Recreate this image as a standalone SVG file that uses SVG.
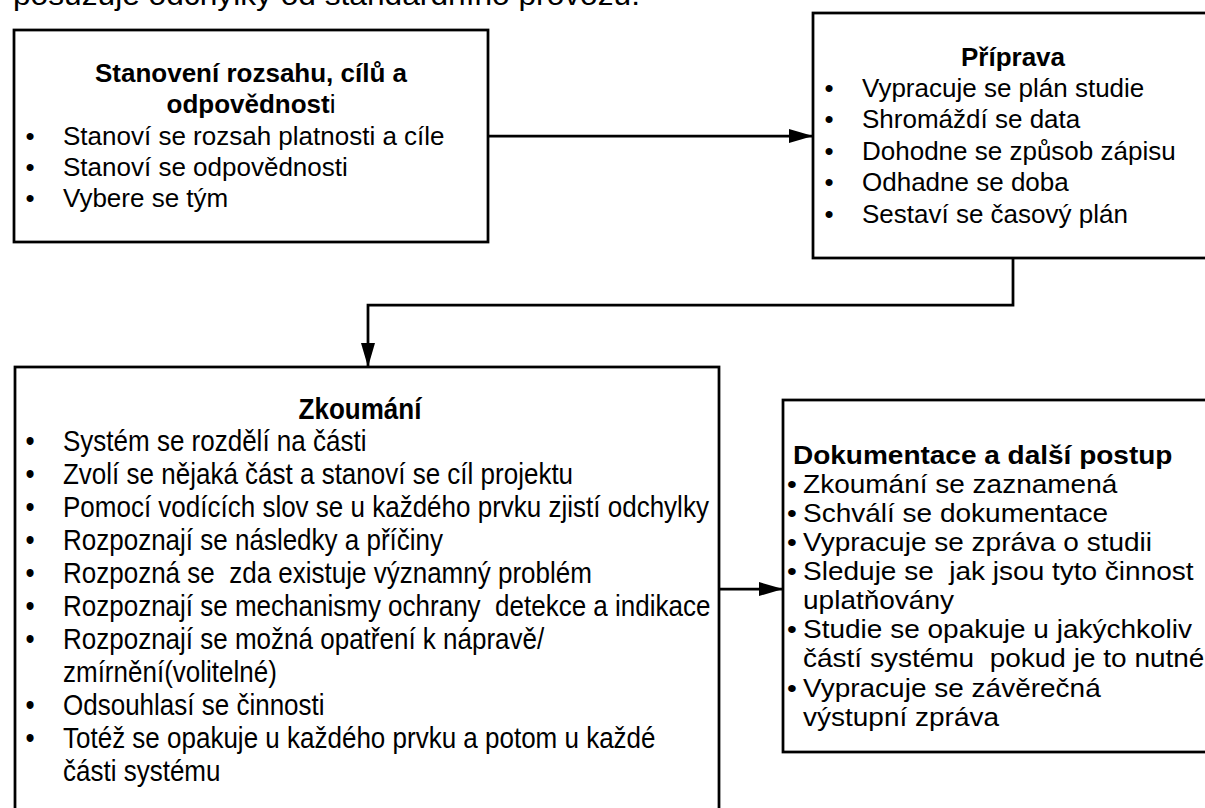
<svg xmlns="http://www.w3.org/2000/svg" width="1205" height="808" viewBox="0 0 1205 808">
<style>
.box{fill:#fff;stroke:#000;stroke-width:2.75}
.t{font-family:"Liberation Sans",Arial,sans-serif;font-size:26px;fill:#000;white-space:pre}
.d{font-size:25px}
.b{font-weight:bold}
.c{text-anchor:middle}
.n{font-weight:normal}
.conn{fill:none;stroke:#000;stroke-width:2.75}
</style>
<defs>
<marker id="arr" markerUnits="userSpaceOnUse" markerWidth="26" markerHeight="16" refX="24" refY="7" orient="auto">
<path d="M0,0 L24,7 L0,14 z" fill="#000"/>
</marker>
</defs>
<rect width="1205" height="808" fill="#fff"/>
<text x="13" y="5" class="t" style="font-size:30px" textLength="627" lengthAdjust="spacingAndGlyphs">posuzuje odchylky od standardního provozu.</text>

<g id="connectors">
<path class="conn" d="M488,136 H813" marker-end="url(#arr)"/>
<path class="conn" d="M1013,258 V305 H368 V367" marker-end="url(#arr)"/>
<path class="conn" d="M719,589 H783" marker-end="url(#arr)"/>
</g>

<g id="node-stanoveni">
<rect class="box" x="14" y="30" width="474" height="212"/>
<text class="t b c" x="251" y="82">Stanovení rozsahu, cílů a</text>
<text class="t b c" x="251" y="113">odpovědnost<tspan class="n">i</tspan></text>
<text class="t" x="25.5" y="144.5">•</text><text class="t" x="63" y="144.5">Stanoví se rozsah platnosti a cíle</text>
<text class="t" x="25.5" y="175.5">•</text><text class="t" x="63" y="175.5">Stanoví se odpovědnosti</text>
<text class="t" x="25.5" y="206.5">•</text><text class="t" x="63" y="206.5">Vybere se tým</text>
</g>

<g id="node-priprava">
<rect class="box" x="813" y="13" width="420" height="245"/>
<text class="t b c" x="1013" y="66">Příprava</text>
<text class="t" x="824.5" y="96.5">•</text><text class="t" x="862" y="96.5">Vypracuje se plán studie</text>
<text class="t" x="824.5" y="128">•</text><text class="t" x="862" y="128">Shromáždí se data</text>
<text class="t" x="824.5" y="159.5">•</text><text class="t" x="862" y="159.5">Dohodne se způsob zápisu</text>
<text class="t" x="824.5" y="191">•</text><text class="t" x="862" y="191">Odhadne se doba</text>
<text class="t" x="824.5" y="222.5">•</text><text class="t" x="862" y="222.5">Sestaví se časový plán</text>
</g>

<g id="node-zkoumani">
<rect class="box" x="15" y="367" width="704" height="470"/>
<g transform="translate(0,367) scale(1,1.1)">
<text class="t b c" x="360" y="47.3">Zkoumání</text>
<text class="t" x="25.5" y="76.8">•</text><text class="t" x="63" y="76.8">Systém se rozdělí na části</text>
<text class="t" x="25.5" y="106.8">•</text><text class="t" x="63" y="106.8">Zvolí se nějaká část a stanoví se cíl projektu</text>
<text class="t" x="25.5" y="136.8">•</text><text class="t" x="63" y="136.8">Pomocí vodících slov se u každého prvku zjistí odchylky</text>
<text class="t" x="25.5" y="166.8">•</text><text class="t" x="63" y="166.8">Rozpoznají se následky a příčiny</text>
<text class="t" x="25.5" y="196.8">•</text><text class="t" x="63" y="196.8">Rozpozná se  zda existuje významný problém</text>
<text class="t" x="25.5" y="226.8">•</text><text class="t" x="63" y="226.8">Rozpoznají se mechanismy ochrany  detekce a indikace</text>
<text class="t" x="25.5" y="256.8">•</text><text class="t" x="63" y="256.8">Rozpoznají se možná opatření k nápravě/</text>
<text class="t" x="63" y="286.8">zmírnění(volitelné)</text>
<text class="t" x="25.5" y="316.8">•</text><text class="t" x="63" y="316.8">Odsouhlasí se činnosti</text>
<text class="t" x="25.5" y="346.8">•</text><text class="t" x="63" y="346.8">Totéž se opakuje u každého prvku a potom u každé</text>
<text class="t" x="63" y="376.8">části systému</text>
</g>
</g>

<g id="node-dokumentace">
<rect class="box" x="783" y="400" width="450" height="352"/>
<g transform="translate(783,0) scale(1.12,1)">
<text class="t d b" x="8.9" y="464">Dokumentace a další postup</text>
<text class="t d" x="3.6" y="493">•</text><text class="t d" x="17.9" y="493">Zkoumání se zaznamená</text>
<text class="t d" x="3.6" y="522">•</text><text class="t d" x="17.9" y="522">Schválí se dokumentace</text>
<text class="t d" x="3.6" y="551">•</text><text class="t d" x="17.9" y="551">Vypracuje se zpráva o studii</text>
<text class="t d" x="3.6" y="580">•</text><text class="t d" x="17.9" y="580">Sleduje se  jak jsou tyto činnost</text>
<text class="t d" x="17.9" y="609">uplatňovány</text>
<text class="t d" x="3.6" y="638">•</text><text class="t d" x="17.9" y="638">Studie se opakuje u jakýchkoliv</text>
<text class="t d" x="17.9" y="667">částí systému  pokud je to nutné</text>
<text class="t d" x="3.6" y="697">•</text><text class="t d" x="17.9" y="697">Vypracuje se závěrečná</text>
<text class="t d" x="17.9" y="726">výstupní zpráva</text>
</g>
</g>
</svg>
